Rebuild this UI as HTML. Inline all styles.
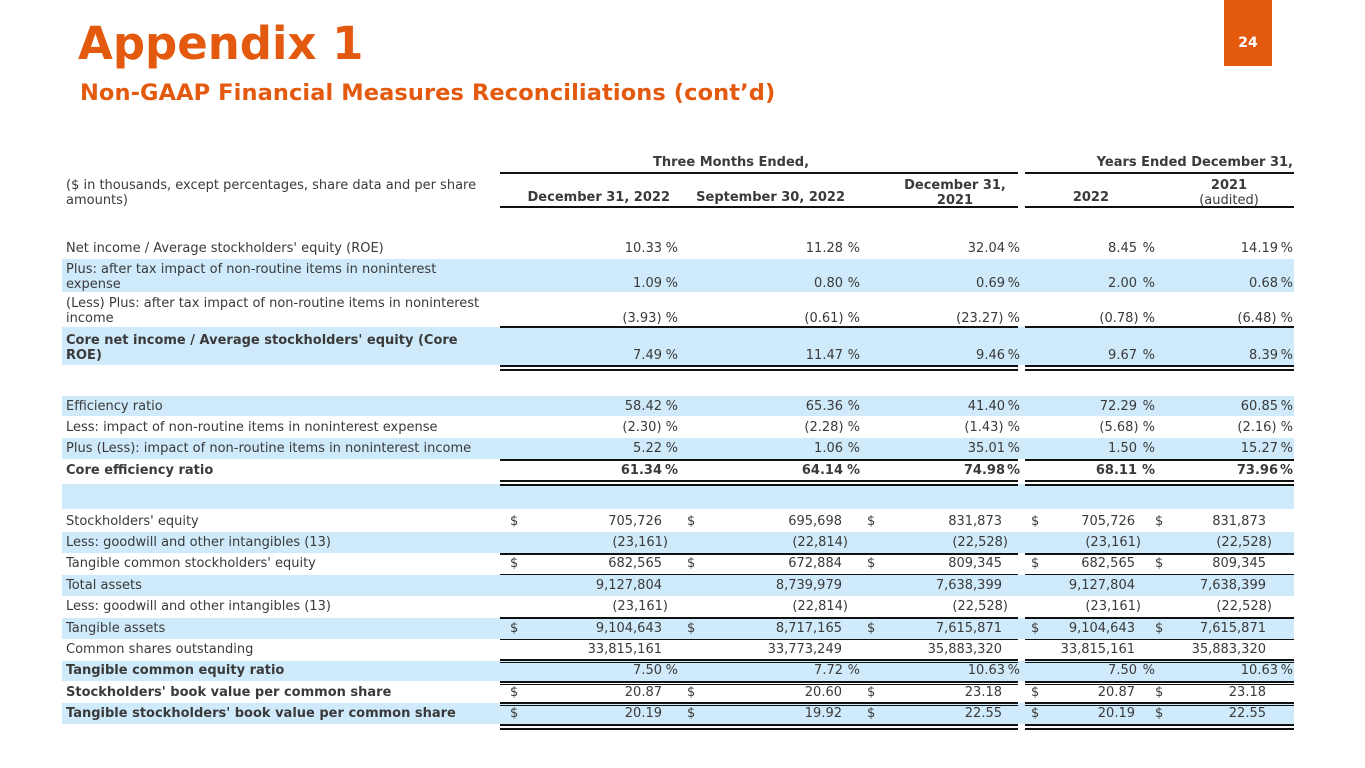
<!DOCTYPE html>
<html><head><meta charset="utf-8"><style>
body{margin:0;width:1365px;height:768px;background:#fff;position:relative;overflow:hidden;font-family:"DejaVu Sans","Liberation Sans",sans-serif;}
.t{position:absolute;white-space:nowrap;font-size:13px;line-height:15px;color:#3a3a3a}
.b{font-weight:bold}
.band{position:absolute;left:62px;width:1232px;background:#cfeafa}
.l1{position:absolute;left:500px;width:518px;height:2px;background:#111}
.l2{position:absolute;left:1025px;width:269px;height:2px;background:#111}
</style></head><body>
<div style="position:absolute;left:78px;top:14px;font-size:45px;font-weight:bold;color:#e35a0f;line-height:60px">Appendix 1</div>
<div style="position:absolute;left:80px;top:78px;font-size:22.5px;font-weight:bold;color:#e35a0f;line-height:30px;letter-spacing:0.1px">Non-GAAP Financial Measures Reconciliations (cont’d)</div>
<div style="position:absolute;left:1224px;top:0;width:48px;height:66px;background:#e35a0f;color:#fff;font-weight:bold;font-size:14px;text-align:center;line-height:20px;padding-top:33px;box-sizing:border-box">24</div>

<div class="band" style="top:259px;height:33px"></div>
<div class="band" style="top:327px;height:38px"></div>
<div class="band" style="top:396px;height:20px"></div>
<div class="band" style="top:438px;height:21px"></div>
<div class="band" style="top:484px;height:25px"></div>
<div class="band" style="top:532px;height:21px"></div>
<div class="band" style="top:575px;height:21px"></div>
<div class="band" style="top:618px;height:21px"></div>
<div class="band" style="top:661px;height:20px"></div>
<div class="band" style="top:703px;height:21px"></div>

<div class="l1" style="top:172px"></div><div class="l2" style="top:172px"></div>
<div class="l1" style="top:206px"></div><div class="l2" style="top:206px"></div>
<div class="l1" style="top:326px"></div><div class="l2" style="top:326px"></div>
<div class="l1" style="top:365px"></div><div class="l2" style="top:365px"></div>
<div class="l1" style="top:369px"></div><div class="l2" style="top:369px"></div>
<div class="l1" style="top:459px"></div><div class="l2" style="top:459px"></div>
<div class="l1" style="top:480px"></div><div class="l2" style="top:480px"></div>
<div class="l1" style="top:484px"></div><div class="l2" style="top:484px"></div>
<div class="l1" style="top:553px"></div><div class="l2" style="top:553px"></div>
<div class="l1" style="top:574px;height:1px"></div><div class="l2" style="top:574px;height:1px"></div>
<div class="l1" style="top:617px"></div><div class="l2" style="top:617px"></div>
<div class="l1" style="top:639px;height:1px"></div><div class="l2" style="top:639px;height:1px"></div>
<div class="l1" style="top:659px"></div><div class="l2" style="top:659px"></div>
<div class="l1" style="top:662px;height:1px"></div><div class="l2" style="top:662px;height:1px"></div>
<div class="l1" style="top:681px"></div><div class="l2" style="top:681px"></div>
<div class="l1" style="top:684px;height:1px"></div><div class="l2" style="top:684px;height:1px"></div>
<div class="l1" style="top:702px"></div><div class="l2" style="top:702px"></div>
<div class="l1" style="top:705px;height:1px"></div><div class="l2" style="top:705px;height:1px"></div>
<div class="l1" style="top:724px"></div><div class="l2" style="top:724px"></div>
<div class="l1" style="top:728px"></div><div class="l2" style="top:728px"></div>

<div class="t b" style="left:653px;top:155px">Three Months Ended,</div>
<div class="t b" style="right:72px;top:155px">Years Ended December 31,</div>
<div class="t" style="left:66px;top:178px">($ in thousands, except percentages, share data and per share<br>amounts)</div>
<div class="t b" style="right:695px;top:190px">December 31, 2022</div>
<div class="t b" style="right:520px;top:190px">September 30, 2022</div>
<div class="t b" style="left:890px;width:130px;text-align:center;top:178px">December 31,<br>2021</div>
<div class="t b" style="right:256px;top:190px">2022</div>
<div class="t" style="left:1170px;width:118px;text-align:center;top:178px"><b>2021</b><br>(audited)</div>

<div class="t" style="left:66px;top:241px">Net income / Average stockholders' equity (ROE)</div>
<div class="t" style="right:703px;top:241px">10.33</div><div class="t" style="right:687px;top:241px">%</div>
<div class="t" style="right:522px;top:241px">11.28</div><div class="t" style="right:505px;top:241px">%</div>
<div class="t" style="right:360px;top:241px">32.04</div><div class="t" style="right:345px;top:241px">%</div>
<div class="t" style="right:228px;top:241px">8.45</div><div class="t" style="right:210px;top:241px">%</div>
<div class="t" style="right:87px;top:241px">14.19</div><div class="t" style="right:72px;top:241px">%</div>

<div class="t" style="left:66px;top:262px">Plus: after tax impact of non-routine items in noninterest<br>expense</div>
<div class="t" style="right:703px;top:276px">1.09</div><div class="t" style="right:687px;top:276px">%</div>
<div class="t" style="right:522px;top:276px">0.80</div><div class="t" style="right:505px;top:276px">%</div>
<div class="t" style="right:360px;top:276px">0.69</div><div class="t" style="right:345px;top:276px">%</div>
<div class="t" style="right:228px;top:276px">2.00</div><div class="t" style="right:210px;top:276px">%</div>
<div class="t" style="right:87px;top:276px">0.68</div><div class="t" style="right:72px;top:276px">%</div>

<div class="t" style="left:66px;top:296px">(Less) Plus: after tax impact of non-routine items in noninterest<br>income</div>
<div class="t" style="right:687px;top:311px">(3.93) %</div>
<div class="t" style="right:505px;top:311px">(0.61) %</div>
<div class="t" style="right:345px;top:311px">(23.27) %</div>
<div class="t" style="right:210px;top:311px">(0.78) %</div>
<div class="t" style="right:72px;top:311px">(6.48) %</div>

<div class="t b" style="left:66px;top:333px">Core net income / Average stockholders' equity (Core<br>ROE)</div>
<div class="t" style="right:703px;top:348px">7.49</div><div class="t" style="right:687px;top:348px">%</div>
<div class="t" style="right:522px;top:348px">11.47</div><div class="t" style="right:505px;top:348px">%</div>
<div class="t" style="right:360px;top:348px">9.46</div><div class="t" style="right:345px;top:348px">%</div>
<div class="t" style="right:228px;top:348px">9.67</div><div class="t" style="right:210px;top:348px">%</div>
<div class="t" style="right:87px;top:348px">8.39</div><div class="t" style="right:72px;top:348px">%</div>

<div class="t" style="left:66px;top:399px">Efficiency ratio</div>
<div class="t" style="right:703px;top:399px">58.42</div><div class="t" style="right:687px;top:399px">%</div>
<div class="t" style="right:522px;top:399px">65.36</div><div class="t" style="right:505px;top:399px">%</div>
<div class="t" style="right:360px;top:399px">41.40</div><div class="t" style="right:345px;top:399px">%</div>
<div class="t" style="right:228px;top:399px">72.29</div><div class="t" style="right:210px;top:399px">%</div>
<div class="t" style="right:87px;top:399px">60.85</div><div class="t" style="right:72px;top:399px">%</div>

<div class="t" style="left:66px;top:420px">Less: impact of non-routine items in noninterest expense</div>
<div class="t" style="right:687px;top:420px">(2.30) %</div>
<div class="t" style="right:505px;top:420px">(2.28) %</div>
<div class="t" style="right:345px;top:420px">(1.43) %</div>
<div class="t" style="right:210px;top:420px">(5.68) %</div>
<div class="t" style="right:72px;top:420px">(2.16) %</div>

<div class="t" style="left:66px;top:441px">Plus (Less): impact of non-routine items in noninterest income</div>
<div class="t" style="right:703px;top:441px">5.22</div><div class="t" style="right:687px;top:441px">%</div>
<div class="t" style="right:522px;top:441px">1.06</div><div class="t" style="right:505px;top:441px">%</div>
<div class="t" style="right:360px;top:441px">35.01</div><div class="t" style="right:345px;top:441px">%</div>
<div class="t" style="right:228px;top:441px">1.50</div><div class="t" style="right:210px;top:441px">%</div>
<div class="t" style="right:87px;top:441px">15.27</div><div class="t" style="right:72px;top:441px">%</div>

<div class="t b" style="left:66px;top:463px">Core efficiency ratio</div>
<div class="t b" style="right:703px;top:463px">61.34</div><div class="t b" style="right:687px;top:463px">%</div>
<div class="t b" style="right:522px;top:463px">64.14</div><div class="t b" style="right:505px;top:463px">%</div>
<div class="t b" style="right:360px;top:463px">74.98</div><div class="t b" style="right:345px;top:463px">%</div>
<div class="t b" style="right:228px;top:463px">68.11</div><div class="t b" style="right:210px;top:463px">%</div>
<div class="t b" style="right:87px;top:463px">73.96</div><div class="t b" style="right:72px;top:463px">%</div>

<div class="t" style="left:66px;top:514px">Stockholders' equity</div>
<div class="t" style="left:510px;top:514px">$</div><div class="t" style="right:703px;top:514px">705,726</div>
<div class="t" style="left:687px;top:514px">$</div><div class="t" style="right:523px;top:514px">695,698</div>
<div class="t" style="left:867px;top:514px">$</div><div class="t" style="right:363px;top:514px">831,873</div>
<div class="t" style="left:1031px;top:514px">$</div><div class="t" style="right:230px;top:514px">705,726</div>
<div class="t" style="left:1155px;top:514px">$</div><div class="t" style="right:99px;top:514px">831,873</div>

<div class="t" style="left:66px;top:535px">Less: goodwill and other intangibles (13)</div>
<div class="t" style="right:697px;top:535px">(23,161)</div>
<div class="t" style="right:517px;top:535px">(22,814)</div>
<div class="t" style="right:357px;top:535px">(22,528)</div>
<div class="t" style="right:224px;top:535px">(23,161)</div>
<div class="t" style="right:93px;top:535px">(22,528)</div>

<div class="t" style="left:66px;top:556px">Tangible common stockholders' equity</div>
<div class="t" style="left:510px;top:556px">$</div><div class="t" style="right:703px;top:556px">682,565</div>
<div class="t" style="left:687px;top:556px">$</div><div class="t" style="right:523px;top:556px">672,884</div>
<div class="t" style="left:867px;top:556px">$</div><div class="t" style="right:363px;top:556px">809,345</div>
<div class="t" style="left:1031px;top:556px">$</div><div class="t" style="right:230px;top:556px">682,565</div>
<div class="t" style="left:1155px;top:556px">$</div><div class="t" style="right:99px;top:556px">809,345</div>

<div class="t" style="left:66px;top:578px">Total assets</div>
<div class="t" style="right:703px;top:578px">9,127,804</div>
<div class="t" style="right:523px;top:578px">8,739,979</div>
<div class="t" style="right:363px;top:578px">7,638,399</div>
<div class="t" style="right:230px;top:578px">9,127,804</div>
<div class="t" style="right:99px;top:578px">7,638,399</div>

<div class="t" style="left:66px;top:599px">Less: goodwill and other intangibles (13)</div>
<div class="t" style="right:697px;top:599px">(23,161)</div>
<div class="t" style="right:517px;top:599px">(22,814)</div>
<div class="t" style="right:357px;top:599px">(22,528)</div>
<div class="t" style="right:224px;top:599px">(23,161)</div>
<div class="t" style="right:93px;top:599px">(22,528)</div>

<div class="t" style="left:66px;top:621px">Tangible assets</div>
<div class="t" style="left:510px;top:621px">$</div><div class="t" style="right:703px;top:621px">9,104,643</div>
<div class="t" style="left:687px;top:621px">$</div><div class="t" style="right:523px;top:621px">8,717,165</div>
<div class="t" style="left:867px;top:621px">$</div><div class="t" style="right:363px;top:621px">7,615,871</div>
<div class="t" style="left:1031px;top:621px">$</div><div class="t" style="right:230px;top:621px">9,104,643</div>
<div class="t" style="left:1155px;top:621px">$</div><div class="t" style="right:99px;top:621px">7,615,871</div>

<div class="t" style="left:66px;top:642px">Common shares outstanding</div>
<div class="t" style="right:703px;top:642px">33,815,161</div>
<div class="t" style="right:523px;top:642px">33,773,249</div>
<div class="t" style="right:363px;top:642px">35,883,320</div>
<div class="t" style="right:230px;top:642px">33,815,161</div>
<div class="t" style="right:99px;top:642px">35,883,320</div>

<div class="t b" style="left:66px;top:663px">Tangible common equity ratio</div>
<div class="t" style="right:703px;top:663px">7.50</div><div class="t" style="right:687px;top:663px">%</div>
<div class="t" style="right:522px;top:663px">7.72</div><div class="t" style="right:505px;top:663px">%</div>
<div class="t" style="right:360px;top:663px">10.63</div><div class="t" style="right:345px;top:663px">%</div>
<div class="t" style="right:228px;top:663px">7.50</div><div class="t" style="right:210px;top:663px">%</div>
<div class="t" style="right:87px;top:663px">10.63</div><div class="t" style="right:72px;top:663px">%</div>

<div class="t b" style="left:66px;top:685px">Stockholders' book value per common share</div>
<div class="t" style="left:510px;top:685px">$</div><div class="t" style="right:703px;top:685px">20.87</div>
<div class="t" style="left:687px;top:685px">$</div><div class="t" style="right:523px;top:685px">20.60</div>
<div class="t" style="left:867px;top:685px">$</div><div class="t" style="right:363px;top:685px">23.18</div>
<div class="t" style="left:1031px;top:685px">$</div><div class="t" style="right:230px;top:685px">20.87</div>
<div class="t" style="left:1155px;top:685px">$</div><div class="t" style="right:99px;top:685px">23.18</div>

<div class="t b" style="left:66px;top:706px">Tangible stockholders' book value per common share</div>
<div class="t" style="left:510px;top:706px">$</div><div class="t" style="right:703px;top:706px">20.19</div>
<div class="t" style="left:687px;top:706px">$</div><div class="t" style="right:523px;top:706px">19.92</div>
<div class="t" style="left:867px;top:706px">$</div><div class="t" style="right:363px;top:706px">22.55</div>
<div class="t" style="left:1031px;top:706px">$</div><div class="t" style="right:230px;top:706px">20.19</div>
<div class="t" style="left:1155px;top:706px">$</div><div class="t" style="right:99px;top:706px">22.55</div>
</body></html>
